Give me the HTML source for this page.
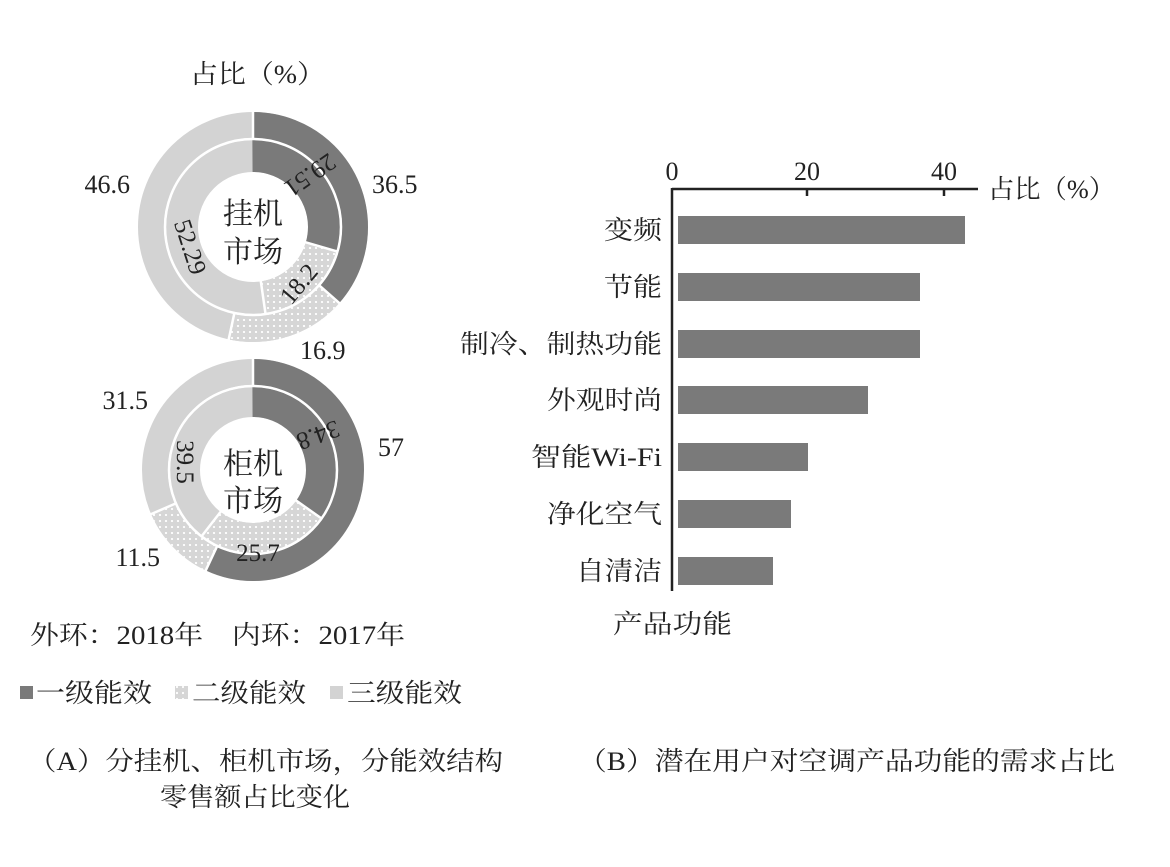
<!DOCTYPE html>
<html><head><meta charset="utf-8"><style>
body{margin:0;background:#fff}
svg text{font-family:"Liberation Serif","Noto Serif CJK SC",serif;fill:#222}
</style></head><body>
<svg width="1170" height="862" viewBox="0 0 1170 862">
<defs>
<pattern id="dot" width="6" height="6" patternUnits="userSpaceOnUse">
<rect width="6" height="6" fill="#d6d6d6"/><circle cx="3" cy="3" r="1.1" fill="#fff"/>
</pattern>
</defs>
<text x="190" y="83" font-size="26" textLength="135" lengthAdjust="spacingAndGlyphs">占比（%）</text>

<!-- top donut -->
<g transform="translate(253,227)">
<g transform="rotate(-90)" fill="none">
<circle r="102" stroke="#d3d3d3" stroke-width="26"/>
<circle r="102" pathLength="100" stroke="#7a7a7a" stroke-width="26" stroke-dasharray="36.5 63.5"/>
<circle r="102" pathLength="100" stroke="url(#dot)" stroke-width="26" stroke-dasharray="16.9 83.1" stroke-dashoffset="-36.5"/>
<circle r="71" stroke="#d3d3d3" stroke-width="32"/>
<circle r="71" pathLength="100" stroke="#7a7a7a" stroke-width="32" stroke-dasharray="29.51 70.49"/>
<circle r="71" pathLength="100" stroke="url(#dot)" stroke-width="32" stroke-dasharray="18.2 81.8" stroke-dashoffset="-29.51"/>
<circle r="88" stroke="#fff" stroke-width="2.5"/>
</g>
<g stroke="#fff" stroke-width="2.5">
<line x1="0" y1="-88" x2="0" y2="-116"/>
<line x1="0" y1="-88" x2="0" y2="-116" transform="rotate(131.4)"/>
<line x1="0" y1="-88" x2="0" y2="-116" transform="rotate(192.2)"/>
<line x1="0" y1="-54" x2="0" y2="-88" transform="rotate(106.2)"/>
<line x1="0" y1="-54" x2="0" y2="-88" transform="rotate(171.8)"/>
</g>
<text x="0" y="-3" font-size="30" text-anchor="middle">挂机</text>
<text x="0" y="35" font-size="30" text-anchor="middle">市场</text>
<text font-size="25" text-anchor="middle" transform="translate(57,-52) rotate(145)" dy="8">29.51</text>
<text font-size="25" text-anchor="middle" transform="translate(46,57) rotate(-50)" dy="8">18.2</text>
<text font-size="25" text-anchor="middle" transform="translate(-63,20) rotate(72)" dy="8">52.29</text>
</g>
<text x="130" y="193" font-size="26" text-anchor="end">46.6</text>
<text x="372" y="193" font-size="26">36.5</text>
<text x="300" y="359" font-size="26">16.9</text>

<!-- bottom donut -->
<g transform="translate(253,470)">
<g transform="rotate(-90)" fill="none">
<circle r="98" stroke="#d3d3d3" stroke-width="26"/>
<circle r="98" pathLength="100" stroke="#7a7a7a" stroke-width="26" stroke-dasharray="57 43"/>
<circle r="98" pathLength="100" stroke="url(#dot)" stroke-width="26" stroke-dasharray="11.5 88.5" stroke-dashoffset="-57"/>
<circle r="68" stroke="#d3d3d3" stroke-width="30"/>
<circle r="68" pathLength="100" stroke="#7a7a7a" stroke-width="30" stroke-dasharray="34.8 65.2"/>
<circle r="68" pathLength="100" stroke="url(#dot)" stroke-width="30" stroke-dasharray="25.7 74.3" stroke-dashoffset="-34.8"/>
<circle r="84" stroke="#fff" stroke-width="2.5"/>
</g>
<g stroke="#fff" stroke-width="2.5">
<line x1="0" y1="-84" x2="0" y2="-112"/>
<line x1="0" y1="-84" x2="0" y2="-112" transform="rotate(205.2)"/>
<line x1="0" y1="-84" x2="0" y2="-112" transform="rotate(246.6)"/>
<line x1="0" y1="-52" x2="0" y2="-84" transform="rotate(125.3)"/>
<line x1="0" y1="-52" x2="0" y2="-84" transform="rotate(217.8)"/>
</g>
<text x="0" y="4" font-size="30" text-anchor="middle">柜机</text>
<text x="0" y="41" font-size="30" text-anchor="middle">市场</text>
<text font-size="25" text-anchor="middle" transform="translate(65,-35) rotate(160)" dy="8">34.8</text>
<text font-size="25" text-anchor="middle" transform="translate(5,83)" dy="8">25.7</text>
<text font-size="25" text-anchor="middle" transform="translate(-68,-8) rotate(90)" dy="8">39.5</text>
</g>
<text x="148" y="409" font-size="26" text-anchor="end">31.5</text>
<text x="378" y="456" font-size="26">57</text>
<text x="160" y="566" font-size="26" text-anchor="end">11.5</text>

<text x="30" y="644" font-size="26" textLength="375" lengthAdjust="spacingAndGlyphs">外环：2018年　内环：2017年</text>
<rect x="20" y="686" width="13" height="13" fill="#7a7a7a"/>
<text x="36" y="702" font-size="26" textLength="116" lengthAdjust="spacingAndGlyphs">一级能效</text>
<rect x="175" y="686" width="13" height="13" fill="url(#dot)"/>
<text x="192" y="702" font-size="26" textLength="114" lengthAdjust="spacingAndGlyphs">二级能效</text>
<rect x="330" y="686" width="13" height="13" fill="#d3d3d3"/>
<text x="347" y="702" font-size="26" textLength="115" lengthAdjust="spacingAndGlyphs">三级能效</text>

<text x="28" y="770" font-size="26" textLength="475" lengthAdjust="spacingAndGlyphs">（A）分挂机、柜机市场，分能效结构</text>
<text x="160" y="806" font-size="26" textLength="190" lengthAdjust="spacingAndGlyphs">零售额占比变化</text>
<text x="578" y="770" font-size="26" textLength="537" lengthAdjust="spacingAndGlyphs">（B）潜在用户对空调产品功能的需求占比</text>

<!-- bar chart -->
<g stroke="#222" stroke-width="2.5" fill="none">
<line x1="672" y1="189" x2="978" y2="189"/>
<line x1="672" y1="188" x2="672" y2="591"/>
<line x1="807" y1="189" x2="807" y2="196"/>
<line x1="944" y1="189" x2="944" y2="196"/>
</g>
<g font-size="26" text-anchor="middle">
<text x="672" y="180">0</text><text x="807" y="180">20</text><text x="944" y="180">40</text>
</g>
<text x="988" y="198" font-size="26" textLength="127" lengthAdjust="spacingAndGlyphs">占比（%）</text>
<g fill="#7a7a7a">
<rect x="678" y="216" width="287" height="28"/>
<rect x="678" y="273" width="242" height="28"/>
<rect x="678" y="330" width="242" height="28"/>
<rect x="678" y="386" width="190" height="28"/>
<rect x="678" y="443" width="130" height="28"/>
<rect x="678" y="500" width="113" height="28"/>
<rect x="678" y="557" width="95" height="28"/>
</g>
<g font-size="26">
<text x="604" y="239" textLength="58" lengthAdjust="spacingAndGlyphs">变频</text>
<text x="604" y="296" textLength="58" lengthAdjust="spacingAndGlyphs">节能</text>
<text x="460" y="353" textLength="202" lengthAdjust="spacingAndGlyphs">制冷、制热功能</text>
<text x="547" y="409" textLength="115" lengthAdjust="spacingAndGlyphs">外观时尚</text>
<text x="531" y="466" textLength="131" lengthAdjust="spacingAndGlyphs">智能Wi-Fi</text>
<text x="547" y="523" textLength="115" lengthAdjust="spacingAndGlyphs">净化空气</text>
<text x="576" y="580" textLength="86" lengthAdjust="spacingAndGlyphs">自清洁</text>
</g>
<text x="613" y="633" font-size="26" textLength="119" lengthAdjust="spacingAndGlyphs">产品功能</text>
</svg>
</body></html>
